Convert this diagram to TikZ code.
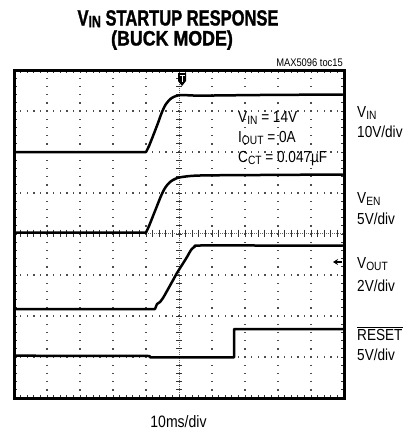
\documentclass[tikz,border=0pt]{standalone}
\usepackage{fontspec}
\usepackage{graphicx}
\setmainfont{Liberation Sans}[FakeStretch=0.85]
\newfontfamily\titlefont{Liberation Sans}[FakeStretch=0.75,FakeBold=1.2]
\usetikzlibrary{arrows.meta}
\newcommand\sbs[1]{\raisebox{-0.3ex}{\scalebox{0.75}{#1}}}
\newcommand\tsbs[1]{\raisebox{-0.15ex}{\scalebox{0.75}{#1}}}
\begin{document}
\begin{tikzpicture}[x=1pt,y=-1pt,
  lbl/.style={inner sep=0pt, anchor=base west, font=\fontsize{16}{19}\selectfont},
  ttl/.style={inner sep=0pt, anchor=base, font=\titlefont\bfseries\fontsize{22}{24}\selectfont},
  trace/.style={line width=2.5pt, line join=round, line cap=round},
  border/.style={line width=3pt},
  gdot/.style={fill=black!70},
  tick/.style={line width=0.9pt, black!80}]
\useasboundingbox (0,0) rectangle (413,431);

% grid dots on horizontal major lines
\foreach \k in {1,2,3,5,6,7} {
  \foreach \j in {1,...,49} {
    \fill[gdot] ({14+6.6*\j-0.7},{70+41*\k-0.7}) rectangle ++(1.4,1.4);
  }
}
% grid dots on vertical major lines
\foreach \i in {1,2,3,4,6,7,8,9} {
  \foreach \j in {1,...,39} {
    \fill[gdot] ({14+33*\i-0.7},{70+8.2*\j-0.7}) rectangle ++(1.4,1.4);
  }
}
% center axes
\draw[line width=0.7pt, black!60, dash pattern=on 1pt off 1pt] (14,233) -- (344,233);
\draw[line width=0.7pt, black!60, dash pattern=on 1pt off 1pt] (179,70) -- (179,398);
\foreach \j in {1,...,49} { \draw[tick] ({14+6.6*\j},229.5) -- ++(0,7); }
\foreach \j in {1,...,39} { \draw[tick] (176,{70+8.2*\j}) -- ++(6,0); }
% border ticks
\foreach \j in {1,...,49} {
  \draw[tick] ({14+6.6*\j},70) -- ++(0,3);
  \draw[tick] ({14+6.6*\j},398) -- ++(0,-3);
}
\foreach \j in {1,...,39} {
  \draw[tick] (14,{70+8.2*\j}) -- ++(3,0);
  \draw[tick] (344,{70+8.2*\j}) -- ++(-3,0);
}
% border
\draw[border] (14,70) rectangle (344,398);

% traces
\draw[trace] (15.5,152) -- (146,152) -- plot[smooth, tension=0.5] coordinates {(146,152) (149,146) (153,136) (158,123) (162,112) (166,104) (171,98.5) (176,96) (182,95) (200,95.6) (260,95) (342.5,94.5)};
\draw[trace] (15.5,232.5) -- (146,232.5) -- plot[smooth, tension=0.5] coordinates {(146,232.5) (149,226) (153,216) (157,206) (161,196) (165,188) (170,182) (176,178.5) (182,177) (200,175.5) (260,175) (342.5,174.5)};
\draw[trace] (15.5,309) -- (155,309) -- (157,304) -- (160,302) -- plot[smooth, tension=0.5] coordinates {(160,302) (163,298) (167,291) (172,282) (177,273) (182,265) (187,257) (191,250) (195,246.5) (200,245.5) (260,245.5) (342.5,245.5)};
\draw[trace] (15.5,355.7) -- (150,356) -- (150,357.3) -- (234,357.3) -- (234,329) -- (342.5,329);

% trigger marker
\fill (178,73) -- (186,73) -- (186,81) -- (182,86) -- (178,81) -- cycle;
\draw[white, line width=1pt] (179.5,75.5) -- (184.5,75.5) (182,75.5) -- (182,82);
% ground marker for VOUT
\draw[line width=1.5pt, -{Stealth[length=5pt,width=6pt]}] (341.5,262) -- (333,262);

% titles
\node[ttl] (t1) at (178,25.5) {V\tsbs{IN} STARTUP RESPONSE};
\node[ttl] (t2) at (172,45.5) {\scalebox{1.08}[0.95]{(BUCK MODE)}};
\node[inner sep=0pt, anchor=base east, font=\fontsize{11}{13}\selectfont] (toc) at (343,66) {MAX5096 toc15};

% legend
\node[lbl] (l1) at (238,122) {V\sbs{IN} = 14V};
\node[lbl] (l2) at (238,142) {I\sbs{OUT} = 0A};
\node[lbl] (l3) at (238,162) {C\sbs{CT} = 0.047µF};

% right labels
\node[lbl] (r1) at (357,117) {V\sbs{IN}};
\node[lbl] (r2) at (357,137) {10V/div};
\node[lbl] (r3) at (357,203) {V\sbs{EN}};
\node[lbl] (r4) at (357,224) {5V/div};
\node[lbl] (r5) at (357,268) {V\sbs{OUT}};
\node[lbl] (r6) at (357,291) {2V/div};
\node[lbl] (r7) at (357,340) {$\overline{\hbox{RESET}}$};
\node[lbl] (r8) at (357,360) {5V/div};

\node[inner sep=0pt, anchor=base, font=\fontsize{16.5}{19}\selectfont] (xl) at (178.5,427) {10ms/div};
\end{tikzpicture}
\end{document}
